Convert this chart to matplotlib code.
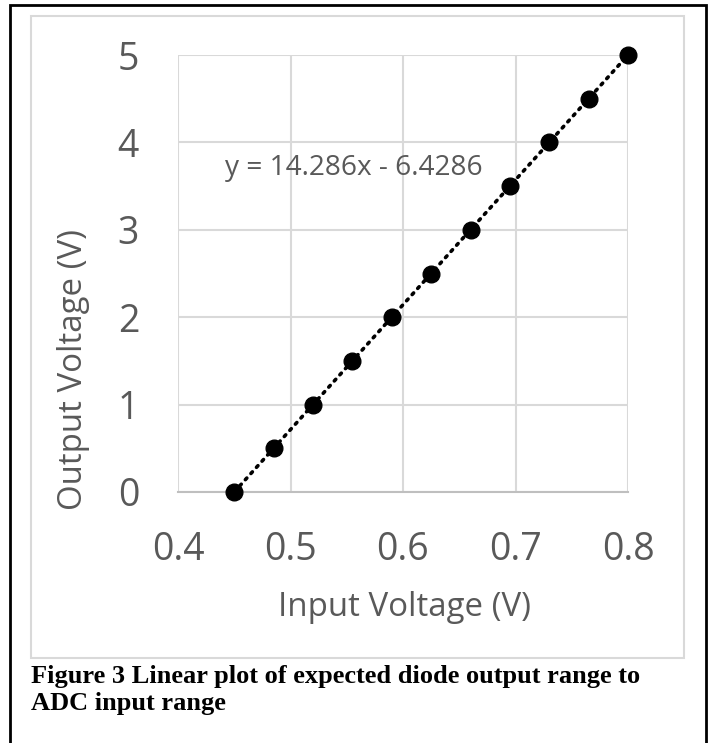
import numpy as np
import matplotlib
matplotlib.use("Agg")
import matplotlib.pyplot as plt
from matplotlib.patches import Rectangle

# Data
input_voltage = [0.45, 0.485, 0.52, 0.555, 0.59, 0.625, 0.66, 0.695, 0.73, 0.765, 0.8]
output_voltage = [0.0, 0.5, 1.0, 1.5, 2.0, 2.5, 3.0, 3.5, 4.0, 4.5, 5.0]
x_ticks = [0.4, 0.5, 0.6, 0.7, 0.8]
x_tick_labels = ["0.4", "0.5", "0.6", "0.7", "0.8"]
y_ticks = [0, 1, 2, 3, 4, 5]
x_label = "Input Voltage (V)"
y_label = "Output Voltage (V)"
equation = "y = 14.286x - 6.4286"
caption = "Figure 3 Linear plot of expected diode output range to\nADC input range"

W, H = 712, 743
fig = plt.figure(figsize=(W / 100, H / 100), dpi=100)

def px_rect(x0, y0, x1, y1, **kw):
    return Rectangle((x0 / W, 1 - y1 / H), (x1 - x0) / W, (y1 - y0) / H,
                     transform=fig.transFigure, fill=False, **kw)

# outer black frame (bottom runs off image)
fig.patches.append(px_rect(10, 5, 706, 760, edgecolor="black", linewidth=2.0))
# chart area gray frame
fig.patches.append(px_rect(31, 16, 684, 658, edgecolor="#d9d9d9", linewidth=1.5))

ax = fig.add_axes([178 / W, 1 - 492 / H, (628 - 178) / W, (492 - 55) / H])
font = "Open Sans"
txt_color = "#595959"

ax.set_xlim(0.4, 0.8)
ax.set_ylim(0, 5)
ax.set_xticks(x_ticks)
ax.set_xticklabels(x_tick_labels)
ax.set_yticks(y_ticks)
ax.grid(True, color="#d9d9d9", linewidth=1.5)
ax.set_axisbelow(True)
for s in ["top", "right", "left"]:
    ax.spines[s].set_visible(False)
ax.spines["bottom"].set_color("#bfbfbf")
ax.spines["bottom"].set_linewidth(1.5)
ax.tick_params(length=0, labelsize=27, labelcolor=txt_color, pad=28)
for lab in ax.get_xticklabels() + ax.get_yticklabels():
    lab.set_fontfamily(font)

# trendline
coef = np.polyfit(input_voltage, output_voltage, 1)
xs = np.array([min(input_voltage), max(input_voltage)])
ax.plot(xs, np.polyval(coef, xs), linestyle=(0, (0.6, 1.7)), color="black",
        linewidth=2.6, dash_capstyle="round", zorder=2)
ax.plot(input_voltage, output_voltage, "o", color="black", markersize=12,
        zorder=3, clip_on=False)

ax.text(0.442, 3.71, equation, fontsize=20.2, color=txt_color, family=font,
        ha="left", va="center")

ax.set_xlabel(x_label, fontsize=23.8, color=txt_color, family=font, va="center")
ax.set_ylabel(y_label, fontsize=23.8, color=txt_color, family=font, va="center")
ax.xaxis.set_label_coords((404 - 178) / 450, (492 - 607) / 437)
ax.yaxis.set_label_coords((73 - 178) / 450, (492 - 370) / 437)

fig.text(31 / W, 1 - 665 / H, caption, fontsize=19.0, fontweight="bold",
         family="Liberation Serif", ha="left", va="top", linespacing=1.2,
         color="black")

fig.savefig("out.png", dpi=100)
